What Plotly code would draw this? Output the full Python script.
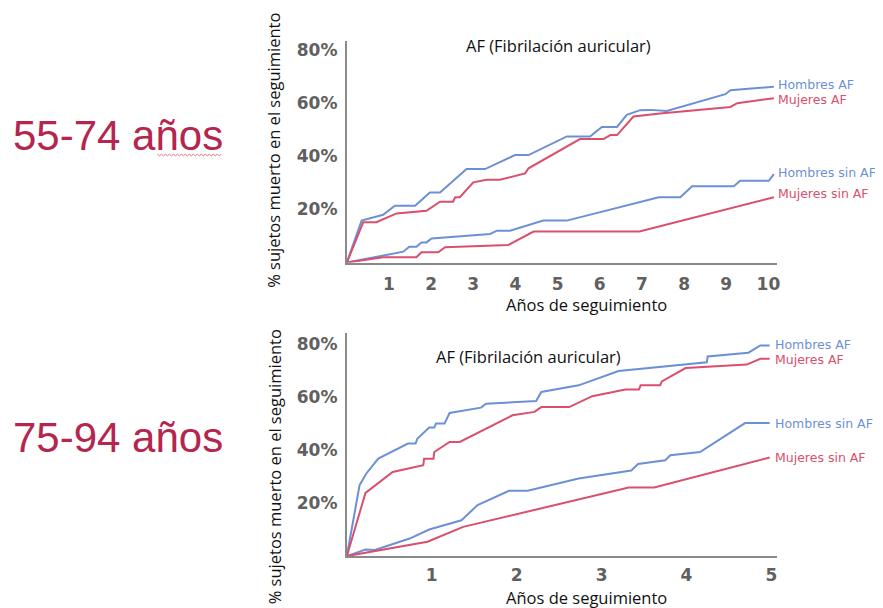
import plotly.graph_objects as go

# The page body adds an 8px margin; the figure is offset by it, so size/positions compensate.
OFF = 8
W, H = 883 - OFF, 608 - OFF
BLUE = "#6C90D5"
RED = "#D94F6C"
CRIMSON = "#B4264D"
AXIS_GRAY = "#8A8A8A"
TICK_GRAY = "#606060"

# ---------------- Top panel: 55-74 años (x: años 0-10) ----------------
top_h_af_x = [0, 0.35, 0.86, 1.14, 1.62, 1.97, 2.21, 2.84, 3.28, 3.99, 4.31, 5.22, 5.77, 6.05, 6.41, 6.64, 6.96, 7.20, 7.59, 8.98, 9.10, 10.13]
top_h_af_y = [0, 15.8, 18.0, 21.4, 21.4, 26.4, 26.4, 35.2, 35.2, 40.5, 40.5, 47.5, 47.5, 51.1, 51.1, 55.6, 57.4, 57.5, 57.1, 63.4, 64.9, 66.2]

top_m_af_x = [0, 0.39, 0.70, 1.18, 1.89, 2.21, 2.52, 2.57, 2.68, 3.00, 3.32, 3.63, 4.23, 4.31, 5.53, 6.09, 6.25, 6.41, 6.80, 7.43, 9.10, 9.26, 10.13]
top_m_af_y = [0, 15.2, 15.2, 18.5, 19.5, 22.9, 22.9, 24.6, 24.6, 30.2, 31.2, 31.2, 33.6, 35.5, 46.5, 46.5, 48.0, 48.0, 55.0, 56.1, 58.6, 60.0, 61.9]

top_h_sin_x = [0, 1.34, 1.48, 1.65, 1.77, 1.89, 2.01, 3.40, 3.56, 3.87, 4.66, 5.22, 7.40, 7.91, 8.19, 9.18, 9.33, 10.01, 10.13]
top_h_sin_y = [0, 4.1, 6.0, 6.0, 7.6, 7.6, 9.1, 10.8, 12.0, 12.0, 15.8, 15.8, 24.6, 24.6, 28.7, 28.7, 30.8, 30.8, 33.3]

top_m_sin_x = [0, 0.86, 1.65, 1.77, 2.17, 2.33, 3.83, 4.43, 6.94, 10.13]
top_m_sin_y = [0, 2.0, 2.0, 3.9, 3.9, 5.8, 6.6, 11.7, 11.7, 24.6]

# ---------------- Bottom panel: 75-94 años (x: años 0-5) ----------------
bot_h_af_x = [0, 0.15, 0.23, 0.37, 0.72, 0.81, 0.83, 0.97, 1.03, 1.05, 1.15, 1.21, 1.58, 1.64, 2.23, 2.29, 2.73, 3.20, 4.24, 4.25, 4.73, 4.87, 4.98]
bot_h_af_y = [0, 26.7, 31.1, 36.7, 42.4, 42.4, 44.2, 48.4, 48.4, 49.9, 49.9, 53.9, 55.9, 57.4, 58.4, 61.8, 64.3, 69.7, 73.0, 75.2, 76.6, 79.3, 79.3]

bot_m_af_x = [0, 0.22, 0.54, 0.90, 0.91, 1.02, 1.03, 1.21, 1.33, 1.95, 2.21, 2.29, 2.62, 2.89, 3.28, 3.44, 3.46, 3.69, 3.71, 3.99, 4.71, 4.87, 4.98]
bot_m_af_y = [0, 23.8, 31.7, 34.2, 36.7, 36.7, 39.2, 43.0, 43.0, 53.0, 54.3, 56.1, 56.1, 60.2, 62.7, 62.7, 64.3, 64.3, 65.8, 70.8, 72.1, 74.3, 74.3]

bot_h_sin_x = [0, 0.22, 0.33, 0.74, 0.97, 1.35, 1.54, 1.91, 2.13, 2.73, 3.35, 3.43, 3.75, 3.81, 4.16, 4.69, 4.98]
bot_h_sin_y = [0, 2.5, 2.3, 6.6, 10.0, 13.5, 19.2, 24.6, 24.6, 29.2, 32.2, 34.7, 36.1, 38.0, 39.2, 50.1, 50.1]

bot_m_sin_x = [0, 0.95, 1.37, 1.95, 3.32, 3.62, 4.98]
bot_m_sin_y = [0, 5.4, 11.0, 15.4, 25.8, 25.8, 37.1]

series_names = ["Hombres AF", "Mujeres AF", "Hombres sin AF", "Mujeres sin AF"]
panel_titles = ["55-74 años", "75-94 años"]
chart_title = "AF (Fibrilación auricular)"
y_title = "% sujetos muerto en el seguimiento"
x_title = "Años de seguimiento"
y_ticks = [20, 40, 60, 80]
top_x_ticks = list(range(1, 11))
bot_x_ticks = list(range(1, 6))


def px(v):
    """screen x pixel -> paper fraction"""
    return (v - OFF) / W


def py(v):
    """screen y pixel -> paper fraction"""
    return 1 - (v - OFF) / H


fig = go.Figure()

label_font_size = 12.5
top_series = [
    (top_h_af_x, top_h_af_y, BLUE, series_names[0], -2),
    (top_m_af_x, top_m_af_y, RED, series_names[1], 1),
    (top_h_sin_x, top_h_sin_y, BLUE, series_names[2], -2),
    (top_m_sin_x, top_m_sin_y, RED, series_names[3], -4),
]
bot_series = [
    (bot_h_af_x, bot_h_af_y, BLUE, series_names[0], -1),
    (bot_m_af_x, bot_m_af_y, RED, series_names[1], 1),
    (bot_h_sin_x, bot_h_sin_y, BLUE, series_names[2], 0),
    (bot_m_sin_x, bot_m_sin_y, RED, series_names[3], 0),
]

annotations = []
for xs, ys, col, name, dy in top_series:
    fig.add_trace(go.Scatter(x=xs, y=ys, mode="lines", line=dict(color=col, width=2),
                             xaxis="x", yaxis="y", showlegend=False, name=name))
    annotations.append(dict(x=xs[-1], y=ys[-1], xref="x", yref="y", text=name,
                            xanchor="left", yanchor="middle", xshift=2, yshift=-dy,
                            showarrow=False,
                            font=dict(family="DejaVu Sans", size=label_font_size, color=col)))
for xs, ys, col, name, dy in bot_series:
    fig.add_trace(go.Scatter(x=xs, y=ys, mode="lines", line=dict(color=col, width=2),
                             xaxis="x2", yaxis="y2", showlegend=False, name=name))
    annotations.append(dict(x=xs[-1], y=ys[-1], xref="x2", yref="y2", text=name,
                            xanchor="left", yanchor="middle", xshift=3, yshift=-dy,
                            showarrow=False,
                            font=dict(family="DejaVu Sans", size=label_font_size, color=col)))

tickfont = dict(family="DejaVu Sans", size=17, color=TICK_GRAY, weight="bold")
axis_common = dict(showgrid=False, zeroline=False, showline=True, linecolor=AXIS_GRAY,
                   linewidth=2, ticks="", tickfont=tickfont, fixedrange=True)

# Top axes: x 0 at 348px, 42.3 px/year; y 0 at 262px, 2.66 px/%
x0_px, x1_px = 348, 780
fig.update_layout(
    xaxis=dict(domain=[px(x0_px), px(x1_px)], range=[0, (x1_px - x0_px) / 42.3], anchor="y",
               tickvals=top_x_ticks, ticktext=[str(t) for t in top_x_ticks], ticklabelstandoff=5,
               **axis_common),
    yaxis=dict(domain=[py(262), py(40)], range=[0, (262 - 40) / 2.66], anchor="x",
               tickvals=y_ticks, ticktext=[f"{t}%" for t in y_ticks], ticklabelstandoff=4,
               **axis_common),
    xaxis2=dict(domain=[px(x0_px), px(x1_px)], range=[0, (x1_px - x0_px) / 85.2], anchor="y2",
                tickvals=bot_x_ticks, ticktext=[str(t) for t in bot_x_ticks], ticklabelstandoff=3,
                **axis_common),
    yaxis2=dict(domain=[py(556), py(333)], range=[0, (556 - 333) / 2.66], anchor="x2",
                tickvals=y_ticks, ticktext=[f"{t}%" for t in y_ticks], ticklabelstandoff=4,
                **axis_common),
)

title_font = dict(family="Open Sans", size=16.5, color="#111111")
ytitle_font = dict(family="Open Sans", size=16.5, color="#111111")
annotations += [
    dict(x=px(560), y=py(45), xref="paper", yref="paper", text=chart_title, showarrow=False,
         xanchor="center", yanchor="middle", font=title_font),
    dict(x=px(530), y=py(356), xref="paper", yref="paper", text=chart_title, showarrow=False,
         xanchor="center", yanchor="middle", font=title_font),
    dict(x=px(588), y=py(304), xref="paper", yref="paper", text=x_title, showarrow=False,
         xanchor="center", yanchor="middle", font=title_font),
    dict(x=px(588), y=py(597), xref="paper", yref="paper", text=x_title, showarrow=False,
         xanchor="center", yanchor="middle", font=title_font),
    dict(x=px(275), y=py(150), xref="paper", yref="paper", text=y_title, showarrow=False,
         textangle=-90, xanchor="center", yanchor="middle", font=ytitle_font),
    dict(x=px(275), y=py(467), xref="paper", yref="paper", text=y_title, showarrow=False,
         textangle=-90, xanchor="center", yanchor="middle", font=ytitle_font),
    dict(x=px(11), y=py(135), xref="paper", yref="paper", text=panel_titles[0], showarrow=False,
         xanchor="left", yanchor="middle",
         font=dict(family="Liberation Sans", size=42, color=CRIMSON)),
    dict(x=px(11), y=py(437), xref="paper", yref="paper", text=panel_titles[1], showarrow=False,
         xanchor="left", yanchor="middle",
         font=dict(family="Liberation Sans", size=42, color=CRIMSON)),
]

# wavy spell-check underline under "años" (decoration)
wx0, wx1, wy = 158, 222, 154
pts = []
step = 2.0
k = 0
xv = wx0
while xv <= wx1:
    pts.append((px(xv), py(wy + (1 if k % 2 else -0.5))))
    xv += step
    k += 1
path = "M " + " L ".join(f"{a:.5f},{b:.5f}" for a, b in pts)

fig.update_layout(
    width=W, height=H,
    margin=dict(l=0, r=0, t=0, b=0),
    paper_bgcolor="white", plot_bgcolor="white",
    annotations=annotations,
    shapes=[dict(type="path", path=path, xref="paper", yref="paper",
                 line=dict(color="#E8707A", width=1))],
    showlegend=False,
)

fig.write_html("out.html", config={"displayModeBar": False})
